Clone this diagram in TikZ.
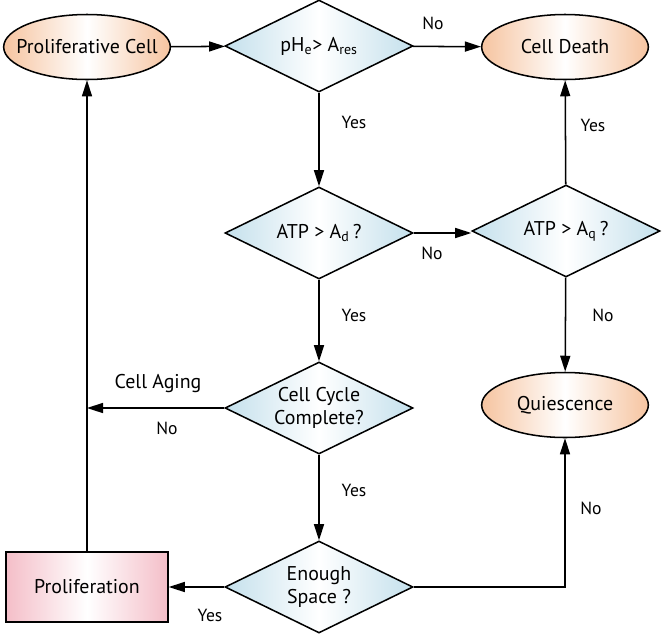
\documentclass[tikz,border=0pt]{standalone}
\usepackage{fontspec}
\setmainfont{PT Sans}
\usetikzlibrary{shapes.geometric,arrows.meta}
\definecolor{cellorange}{RGB}{246,196,160}
\definecolor{testblue}{RGB}{196,224,236}
\definecolor{boxpink}{RGB}{244,190,200}

\begin{document}
\begin{tikzpicture}[x=0.03cm, y=-0.03cm,
	cellstate/.style={ellipse, draw, line width=1.3pt, minimum width=5.0cm, minimum height=1.95cm,
		left color=cellorange, right color=cellorange, middle color=white,
		label={[font=\fontsize{17}{19}\selectfont]center:#1}},
	test/.style={diamond, aspect=2, inner sep=0pt, draw, line width=1.3pt, minimum width=5.64cm,
		minimum height=2.76cm, left color=testblue, right color=testblue, middle color=white,
		align=center, font=\fontsize{17}{19}\selectfont},
	action/.style={rectangle, draw, line width=1.3pt, minimum width=4.86cm, minimum height=2.1cm,
		left color=boxpink, right color=boxpink, middle color=white,
		font=\fontsize{17}{19}\selectfont},
	answer/.style={font=\fontsize{15}{17}\selectfont},
	flow/.style={line width=1.3pt, -{Triangle[length=4.8mm, width=3mm]}}]
	\useasboundingbox (0, 0) rectangle (666, 635);

	% states
	\node [cellstate=Proliferative Cell] (pcell) at (87, 47) {};
	\node [cellstate=Cell Death] (death) at (565, 47) {};
	\node [cellstate=Quiescence] (quiesc) at (565, 405) {};
	\node [action] (prolif) at (87, 587) {Proliferation};

	% tests
	\node [test] (ph) at (319, 46) {pH\textsubscript{e}> A\textsubscript{res}};
	\node [test] (atpd) at (319, 233) {ATP > A\textsubscript{d}\,?};
	\node [test] (atpq) at (566, 231) {ATP > A\textsubscript{q}\,?};
	\node [test] (cycle) at (319, 408) {Cell Cycle\\Complete?};
	\node [test] (space) at (319, 587) {Enough\\Space ?};

	\coordinate (aging) at (87, 408);

	% connectors
	\draw [flow] (pcell) -- (ph);
	\draw [flow] (ph) -- (death);
	\draw [flow] (ph) -- (atpd);
	\draw [flow] (atpd.east) -- (atpd.east -| atpq.west);
	\draw [flow] (atpq) -- (death);
	\draw [flow] (atpq) -- (quiesc);
	\draw [flow] (atpd) -- (cycle);
	\draw [flow] (cycle.west) -- (aging);
	\draw [flow] (cycle) -- (space);
	\draw [flow] (space) -- (prolif);
	\draw [flow] (space.east) -| (quiesc.south);
	\draw [flow] (prolif.north) -- (pcell.south);

	% answers
	\node [answer] (phno) at (433, 23) {No};
	\node [answer] (phyes) at (354, 122) {Yes};
	\node [answer] (atpdno) at (432, 253) {No};
	\node [answer] (atpqyes) at (593, 125) {Yes};
	\node [answer] (atpqno) at (603, 315) {No};
	\node [answer] (atpdyes) at (354, 315) {Yes};
	\node [font=\fontsize{17}{19}\selectfont] (aginglabel) at (158, 384) {Cell Aging};
	\node [answer] (cycleno) at (167, 428) {No};
	\node [answer] (cycleyes) at (354, 490) {Yes};
	\node [answer] (spaceyes) at (210, 615) {Yes};
	\node [answer] (spaceno) at (591, 508) {No};
\end{tikzpicture}
\end{document}
